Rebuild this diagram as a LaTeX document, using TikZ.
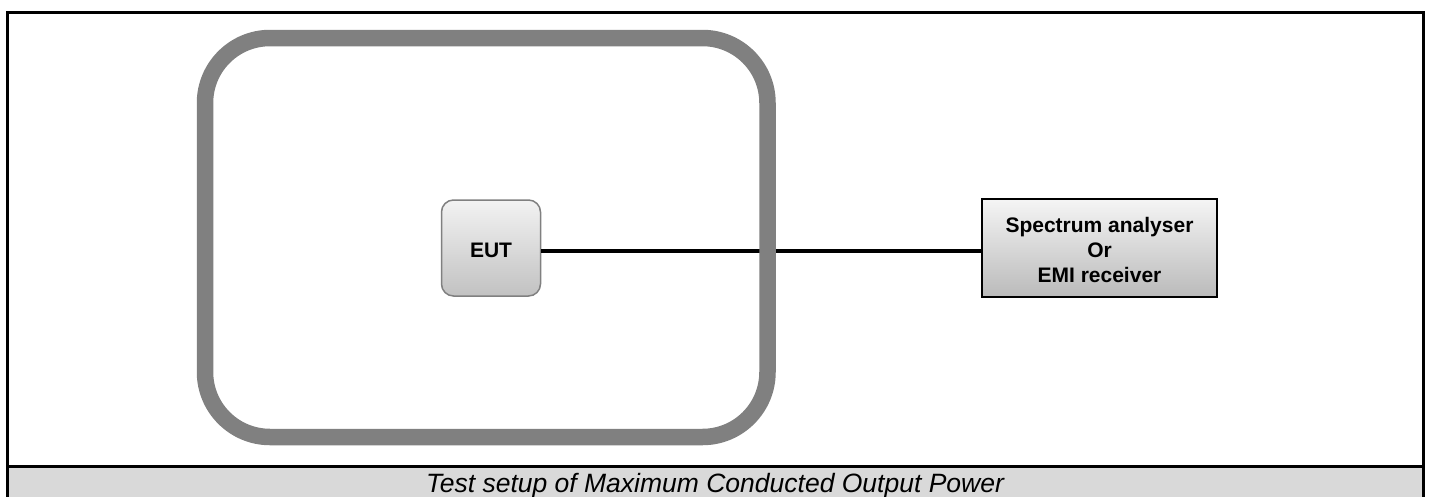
\documentclass[tikz,border=0pt]{standalone}
\usepackage{fontspec}
\setmainfont{Liberation Sans}
\begin{document}
\begin{tikzpicture}[x=1pt,y=-1pt,
  frame/.style={draw=black,line width=3pt},
  chamber/.style={draw=gray!100!white,line width=16.5pt,rounded corners=65pt},
  eutbox/.style={draw=black!50,line width=1.5pt,rounded corners=12pt,top color=black!5,bottom color=black!24},
  anabox/.style={draw=black,line width=1.5pt,top color=black!4,bottom color=black!27},
  cable/.style={line width=4pt},
  lbl/.style={font=\fontsize{21}{25}\selectfont\bfseries,align=center},
  captext/.style={font=\fontsize{26.5}{30}\selectfont\itshape,anchor=base}]
\useasboundingbox (0,0) rectangle (1430,496);
% caption band
\fill[black!15] (7,466) rectangle (1423,510);
\draw[frame] (7,510) -- (7,12) -- (1423,12) -- (1423,510);
\draw[frame] (7,466) -- (1423,466);
\node[captext] (caption) at (715,492) {Test setup of Maximum Conducted Output Power};
% EUT
\node[eutbox,minimum width=99pt,minimum height=96pt,inner sep=0pt] (eut) at (491,248) {};
\node[lbl] (euttext) at ([yshift=-2pt]eut.center) {EUT};
% analyser
\node[anabox,minimum width=235pt,minimum height=98pt,inner sep=0pt] (ana) at (1099.5,248) {};
\node[lbl] (anatext) at (1099.5,250) {Spectrum analyser\\Or\\EMI receiver};
% cable
\draw[cable] ([yshift=-2.5pt]eut.east) -- ([yshift=-2.5pt]ana.west);
% chamber (drawn over the cable)
\draw[chamber] (205,38) rectangle (767.5,437);
\end{tikzpicture}
\end{document}
